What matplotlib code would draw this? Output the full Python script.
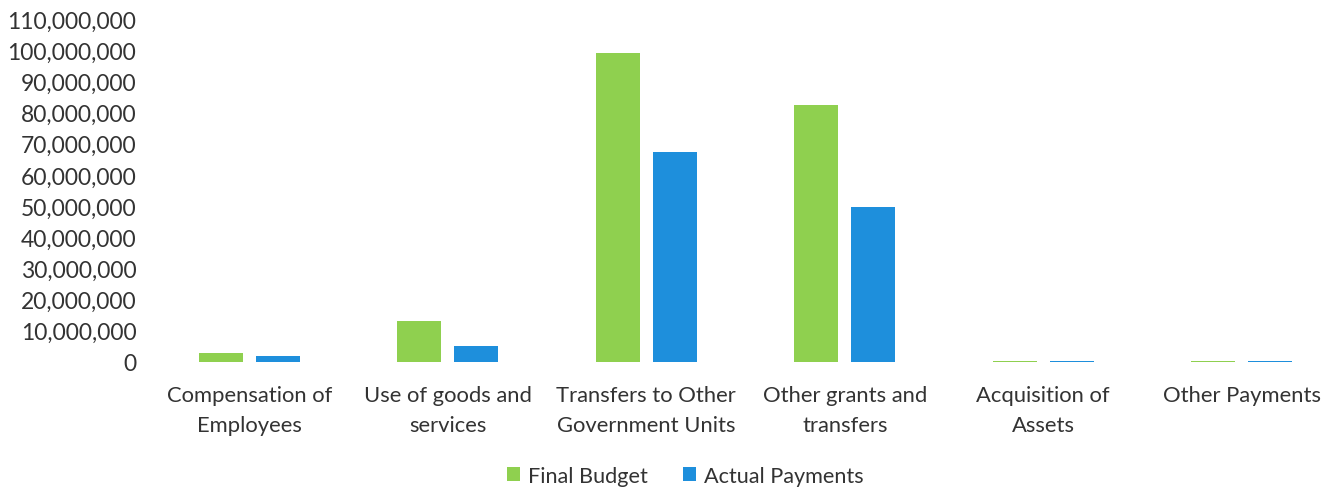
import matplotlib
matplotlib.use("Agg")
import matplotlib.pyplot as plt
import numpy as np
from matplotlib.ticker import FuncFormatter, MultipleLocator

categories = ["Compensation of\nEmployees", "Use of goods and\nservices",
              "Transfers to Other\nGovernment Units", "Other grants and\ntransfers",
              "Acquisition of\nAssets", "Other Payments"]
final_budget = [2_900_000, 13_000_000, 99_200_000, 82_500_000, 350_000, 300_000]
actual_payments = [1_900_000, 5_100_000, 67_300_000, 49_600_000, 250_000, 300_000]
series_names = ["Final Budget", "Actual Payments"]

plt.rcParams['font.family'] = ['Lato', 'DejaVu Sans']
text_color = '#333333'
green = '#8fd04f'
blue = '#1e8fdc'

fig = plt.figure(figsize=(13.41, 4.89), dpi=100)
ax = fig.add_axes([0.112, 0.258, 0.888, 0.701])

x = np.arange(len(categories))
w = 0.222
off = 0.1435
ax.bar(x - off, final_budget, w, color=green, label=series_names[0])
ax.bar(x + off, actual_payments, w, color=blue, label=series_names[1])

ax.set_xlim(-0.5, len(categories) - 0.5)
ax.set_ylim(0, 110_000_000)
ax.yaxis.set_major_locator(MultipleLocator(10_000_000))
ax.yaxis.set_major_formatter(FuncFormatter(lambda v, p: f"{int(v):,}"))
ax.set_xticks(x)
ax.set_xticklabels(categories, linespacing=1.62, fontsize=15.8)
for s in ax.spines.values():
    s.set_visible(False)
ax.tick_params(axis='both', length=0, colors=text_color)
ax.tick_params(axis='y', labelsize=16.5, pad=10)
ax.tick_params(axis='x', pad=17)

leg = fig.legend(loc='center', bbox_to_anchor=(0.511, 0.025), ncol=2, frameon=False,
                 fontsize=15.6, handlelength=0.6, handleheight=0.6, columnspacing=1.6,
                 handletextpad=0.4, labelcolor=text_color)

fig.savefig("out.png", dpi=100)
